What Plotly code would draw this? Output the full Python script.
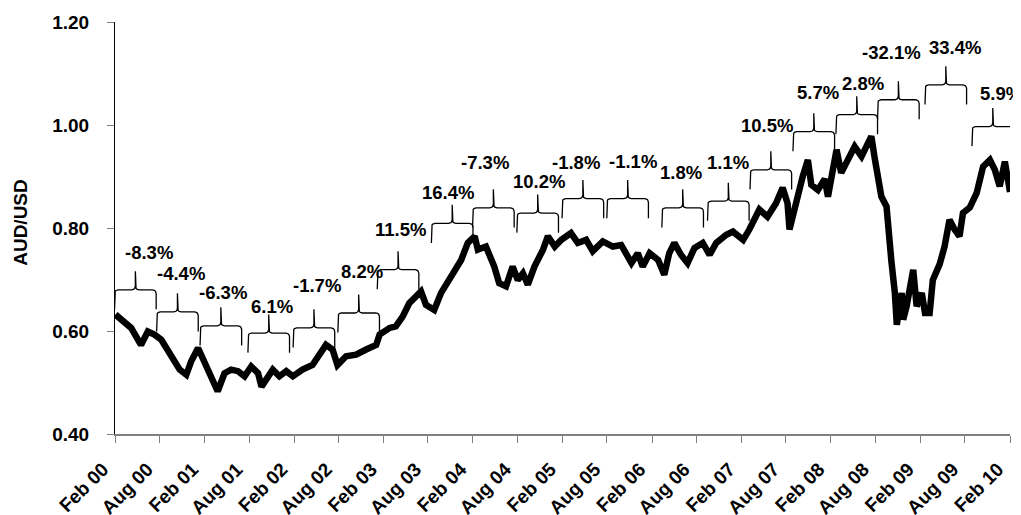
import numpy as np
import plotly.graph_objects as go

# ---------------- data ----------------
dates = [
    "2000-02-03", "2000-02-14", "2000-03-10", "2000-04-07", "2000-04-24", "2000-05-17",
    "2000-06-14", "2000-07-11", "2000-08-08", "2000-08-28", "2000-09-25", "2000-10-22",
    "2000-11-18", "2000-12-08", "2001-01-05", "2001-02-02", "2001-02-28", "2001-03-26",
    "2001-04-23", "2001-05-20", "2001-06-17", "2001-07-14", "2001-08-10", "2001-09-07",
    "2001-09-21", "2001-10-18", "2001-11-06", "2001-12-03", "2001-12-31", "2002-01-27",
    "2002-03-07", "2002-04-17", "2002-05-14", "2002-06-11", "2002-07-08", "2002-07-28",
    "2002-09-01", "2002-10-12", "2002-11-22", "2003-01-02", "2003-01-16", "2003-02-26",
    "2003-03-23", "2003-04-20", "2003-05-17", "2003-06-14", "2003-07-04", "2003-07-24",
    "2003-08-27", "2003-09-24", "2003-11-04", "2003-12-15", "2004-01-11", "2004-02-08",
    "2004-02-21", "2004-03-25", "2004-04-28", "2004-05-18", "2004-06-15", "2004-07-12",
    "2004-08-02", "2004-08-23", "2004-09-12", "2004-10-09", "2004-11-13", "2004-12-03",
    "2004-12-31", "2005-01-27", "2005-03-07", "2005-04-04", "2005-05-08", "2005-06-04",
    "2005-07-15", "2005-08-25", "2005-09-28", "2005-11-09", "2005-12-05", "2005-12-25",
    "2006-01-22", "2006-02-26", "2006-03-23", "2006-04-12", "2006-05-03", "2006-05-30",
    "2006-06-26", "2006-07-24", "2006-08-27", "2006-09-24", "2006-10-21", "2006-12-01",
    "2006-12-28", "2007-02-08", "2007-03-05", "2007-04-15", "2007-05-18", "2007-06-22",
    "2007-07-19", "2007-08-08", "2007-08-16", "2007-09-13", "2007-10-09", "2007-10-30",
    "2007-11-13", "2007-12-10", "2008-01-07", "2008-01-20", "2008-02-10", "2008-02-24",
    "2008-03-14", "2008-04-10", "2008-05-08", "2008-06-05", "2008-06-25", "2008-07-15",
    "2008-07-29", "2008-08-10", "2008-08-25", "2008-09-15", "2008-09-22", "2008-10-05",
    "2008-10-19", "2008-10-27", "2008-11-16", "2008-11-22", "2008-12-06", "2009-01-02",
    "2009-01-16", "2009-02-06", "2009-02-19", "2009-03-10", "2009-03-23", "2009-04-20",
    "2009-05-10", "2009-05-30", "2009-06-20", "2009-07-10", "2009-07-24", "2009-08-21",
    "2009-09-18", "2009-10-14", "2009-11-11", "2009-12-01", "2009-12-21", "2010-01-11",
    "2010-01-25", "2010-02-01",
]
aud_usd = [
    0.632, 0.628, 0.615, 0.606, 0.592, 0.573,
    0.599, 0.593, 0.583, 0.567, 0.544, 0.525,
    0.515, 0.541, 0.567, 0.538, 0.509, 0.483,
    0.518, 0.525, 0.522, 0.512, 0.531, 0.518,
    0.492, 0.509, 0.525, 0.512, 0.522, 0.512,
    0.525, 0.534, 0.551, 0.573, 0.564, 0.534,
    0.551, 0.554, 0.564, 0.573, 0.593, 0.606,
    0.609, 0.628, 0.654, 0.667, 0.677, 0.651,
    0.641, 0.674, 0.706, 0.738, 0.771, 0.784,
    0.758, 0.764, 0.725, 0.693, 0.687, 0.725,
    0.699, 0.712, 0.690, 0.725, 0.758, 0.784,
    0.764, 0.777, 0.790, 0.771, 0.777, 0.755,
    0.774, 0.764, 0.767, 0.732, 0.751, 0.725,
    0.751, 0.738, 0.709, 0.751, 0.771, 0.748,
    0.732, 0.761, 0.771, 0.748, 0.771, 0.787,
    0.793, 0.777, 0.797, 0.836, 0.822, 0.848,
    0.878, 0.848, 0.797, 0.855, 0.900, 0.932,
    0.884, 0.874, 0.895, 0.861, 0.913, 0.952,
    0.907, 0.935, 0.958, 0.939, 0.962, 0.978,
    0.935, 0.900, 0.861, 0.842, 0.790, 0.735,
    0.674, 0.612, 0.674, 0.622, 0.648, 0.719,
    0.648, 0.674, 0.635, 0.635, 0.699, 0.730,
    0.764, 0.816, 0.797, 0.784, 0.829, 0.840,
    0.868, 0.919, 0.932, 0.913, 0.881, 0.929,
    0.890, 0.870,
]

tick_dates = [f"{y}-{m:02d}-01" for y in range(2000, 2011) for m in (2, 8)][:21]
tick_labels = ["Feb 00", "Aug 00", "Feb 01", "Aug 01", "Feb 02", "Aug 02", "Feb 03",
               "Aug 03", "Feb 04", "Aug 04", "Feb 05", "Aug 05", "Feb 06", "Aug 06",
               "Feb 07", "Aug 07", "Feb 08", "Aug 08", "Feb 09", "Aug 09", "Feb 10"]

# half-year change labels (one per half-year period)
period_changes = ["-8.3%", "-4.4%", "-6.3%", "6.1%", "-1.7%", "8.2%", "11.5%", "16.4%",
                  "-7.3%", "10.2%", "-1.8%", "-1.1%", "1.8%", "1.1%", "10.5%", "5.7%",
                  "2.8%", "-32.1%", "33.4%", "5.9%"]

# ---------------- annotation layout (positions of braces / labels) ----------------
# brace horizontal shift within its half-year slot (slot units)
brace_shift = [-0.01, -0.07, -0.10, -0.03, -0.02, -0.02, -0.14, 0.07, -0.01, -0.02,
               -0.01, -0.01, 0.22, 0.24, 0.19, 0.15, 0.11, 0.04, 0.10, 0.15]
# level of the brace bar (in AUD/USD units)
brace_bar = [0.680, 0.637, 0.610, 0.596, 0.606, 0.635, 0.719, 0.809, 0.839, 0.829,
             0.857, 0.857, 0.839, 0.852, 0.913, 0.987, 1.020, 1.049, 1.078, 0.997]
# label centre offset from brace tip (slot units) and label height
label_dx = [0.31, 0.08, 0.04, 0.07, 0.07, 0.07, 0.05, -0.09, -0.19, 0.04,
            -0.16, 0.11, -0.04, 0.0, -0.09, 0.09, 0.13, -0.16, 0.20, 0.18]
label_y = [0.753, 0.711, 0.674, 0.648, 0.688, 0.716, 0.798, 0.868, 0.927, 0.891,
           0.927, 0.930, 0.908, 0.927, 0.999, 1.063, 1.080, 1.140, 1.150, 1.062]

FONT = "Liberation Sans, Arial, sans-serif"
BRACE_W = 0.93      # slot units
ARM = 0.038         # arm length below bar (value units)
TIP = 0.036         # tip height above bar
RX, RY = 0.08, 0.007


def brace_path(a, b, ym):
    c = (a + b) / 2
    yb, yt = ym - ARM, ym + TIP
    xs, ys = [a], [yb]
    t = np.linspace(np.pi, np.pi / 2, 6)
    xs += list(a + RX + RX * np.cos(t)); ys += list(ym - RY + RY * np.sin(t))
    t = np.linspace(-np.pi / 2, 0, 6)
    xs += list(c - RX + RX * np.cos(t)); ys += list(ym + RY + RY * np.sin(t))
    xs += [c, c]; ys += [yt, ym + RY]
    t = np.linspace(np.pi, 3 * np.pi / 2, 6)
    xs += list(c + RX + RX * np.cos(t)); ys += list(ym + RY + RY * np.sin(t))
    t = np.linspace(np.pi / 2, 0, 6)
    xs += list(b - RX + RX * np.cos(t)); ys += list(ym - RY + RY * np.sin(t))
    xs += [b]; ys += [yb]
    return xs, ys


fig = go.Figure()
fig.add_trace(go.Scatter(x=dates, y=aud_usd, mode="lines",
                         line=dict(color="black", width=6.5), hoverinfo="skip",
                         showlegend=False))

bx, by = [], []
for i in range(len(period_changes)):
    a = i + brace_shift[i]
    xs, ys = brace_path(a, a + BRACE_W, brace_bar[i])
    bx += xs + [None]
    by += ys + [None]
    fig.add_annotation(x=a + BRACE_W / 2 + label_dx[i], y=label_y[i], xref="x2", yref="y",
                       text=period_changes[i], showarrow=False,
                       font=dict(family=FONT, size=18.5, color="black", weight="bold"))
fig.add_trace(go.Scatter(x=bx, y=by, xaxis="x2", mode="lines",
                         line=dict(color="black", width=1.3), hoverinfo="skip",
                         showlegend=False))

fig.add_annotation(x=-0.119, y=0.515, xref="paper", yref="paper", text="AUD/USD",
                   textangle=-90, showarrow=False, xanchor="left",
                   font=dict(family=FONT, size=19, color="black", weight="bold"))

fig.update_layout(
    width=1021, height=515,
    margin=dict(l=107, r=19, t=14, b=89, autoexpand=False),
    paper_bgcolor="white", plot_bgcolor="white",
    font=dict(family=FONT, color="black"),
    xaxis=dict(type="date", range=[tick_dates[0], tick_dates[-1]],
               tickmode="array", tickvals=tick_dates, ticktext=tick_labels,
               tickangle=-45, showgrid=False, zeroline=False,
               showline=True, linecolor="#808080", linewidth=1.5,
               ticks="outside", ticklen=7, tickcolor="#808080",
               ticklabelstandoff=8, ticklabelshift=-12,
               tickfont=dict(family=FONT, size=19, color="black", weight="bold")),
    xaxis2=dict(range=[0, 20], overlaying="x", visible=False, fixedrange=True),
    yaxis=dict(range=[0.40, 1.20], dtick=0.2, tick0=0.4, tickformat=".2f",
               showgrid=False, zeroline=False, showline=True, linecolor="black",
               linewidth=1, ticks="outside", ticklen=7, tickcolor="#808080",
               ticklabelstandoff=14,
               tickfont=dict(family=FONT, size=19, color="black", weight="bold")),
)

fig.write_html("out.html")
